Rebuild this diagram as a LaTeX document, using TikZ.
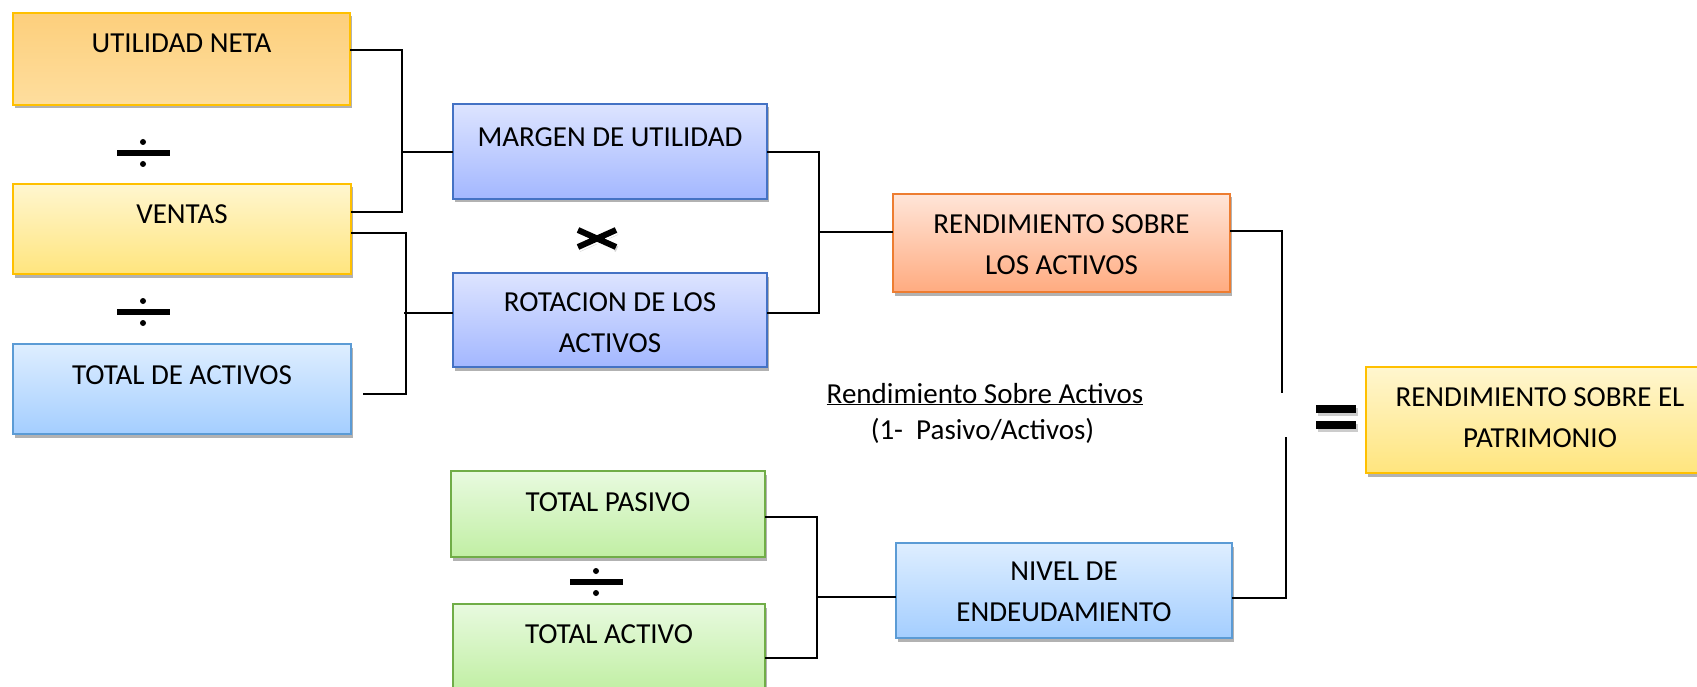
\documentclass[tikz,border=0pt]{standalone}
\usepackage{fontspec}
\setmainfont{Carlito}
\usetikzlibrary{shadows,calc}
\definecolor{gold}{HTML}{FFC000}
\definecolor{unT}{HTML}{FDCF7C}
\definecolor{unB}{HTML}{FEDE9E}
\definecolor{yeT}{HTML}{FFF6CF}
\definecolor{yeB}{HTML}{FFE57E}
\definecolor{lbT}{HTML}{DEEEFF}
\definecolor{lbB}{HTML}{A4CEFF}
\definecolor{lbD}{HTML}{5B9BD5}
\definecolor{pbT}{HTML}{DDE4FF}
\definecolor{pbB}{HTML}{A3B7FF}
\definecolor{pbD}{HTML}{4472C4}
\definecolor{orT}{HTML}{FFE5D8}
\definecolor{orB}{HTML}{FFAB80}
\definecolor{orD}{HTML}{ED7D31}
\definecolor{grT}{HTML}{E8FADF}
\definecolor{grB}{HTML}{C1EFA4}
\definecolor{grD}{HTML}{70AD47}
\tikzset{
  box/.style={rectangle, draw, line width=1.4pt, inner sep=0pt, outer sep=0pt,
    drop shadow={shadow xshift=1.5pt, shadow yshift=-3.5pt, opacity=0.3, fill=black}},
  unbox/.style={box, draw=gold, top color=unT, bottom color=unB},
  yebox/.style={box, draw=gold, top color=yeT, bottom color=yeB},
  lbbox/.style={box, draw=lbD, top color=lbT, bottom color=lbB},
  pbbox/.style={box, draw=pbD, top color=pbT, bottom color=pbB},
  orbox/.style={box, draw=orD, top color=orT, bottom color=orB},
  grbox/.style={box, draw=grD, top color=grT, bottom color=grB},
  txt/.style={anchor=base, align=center, inner sep=0pt, font=\fontsize{29}{41}\selectfont},
  conn/.style={line width=2pt, black},
  sym/.style={fill=black, draw=none}
}
\begin{document}
\begin{tikzpicture}[x=1pt, y=-1pt]
\useasboundingbox (0,0) rectangle (1697,687);
\clip (0,0) rectangle (1697,687);
% boxes
\node[unbox, minimum width=337pt, minimum height=92pt] (un) at (181.5,59) {};
\node[yebox, minimum width=338pt, minimum height=90pt] (ven) at (182,229) {};
\node[lbbox, minimum width=338pt, minimum height=90pt] (tda) at (182,389) {};
\node[pbbox, minimum width=314pt, minimum height=95pt] (mar) at (610,151.5) {};
\node[pbbox, minimum width=314pt, minimum height=94pt] (rot) at (610,320) {};
\node[orbox, minimum width=337pt, minimum height=98pt] (rsa) at (1061.5,243) {};
\node[yebox, minimum width=348pt, minimum height=106pt] (rsp) at (1540,420) {};
\node[grbox, minimum width=314pt, minimum height=86pt] (tp) at (608,514) {};
\node[grbox, minimum width=312pt, minimum height=86pt] (ta) at (609,647) {};
\node[lbbox, minimum width=336pt, minimum height=95pt] (niv) at (1064,590.5) {};
% texts (multi-line nodes: base = last line)
\node[txt] (unt) at (181.5,53) {UTILIDAD NETA};
\node[txt] (vent) at (182,223) {VENTAS};
\node[txt] (tdat) at (182,384) {TOTAL DE ACTIVOS};
\node[txt] (mart) at (610,147) {MARGEN DE UTILIDAD};
\node[txt] (rott) at (610,352) {ROTACION DE LOS\\ACTIVOS};
\node[txt] (rsat) at (1061.5,274) {RENDIMIENTO SOBRE\\LOS ACTIVOS};
\node[txt] (rspt) at (1540,447) {RENDIMIENTO SOBRE EL\\PATRIMONIO};
\node[txt] (tpt) at (608,511) {TOTAL PASIVO};
\node[txt] (tat) at (609,643) {TOTAL ACTIVO};
\node[txt] (nivt) at (1064,621) {NIVEL DE\\ENDEUDAMIENTO};
\node[txt] (f1) at (985,403) {\underline{Rendimiento Sobre Activos}};
\node[txt] (f2) at (982.5,439) {(1-\ \ Pasivo/Activos)};
% coordinates
\coordinate (j1a) at (402,50);
\coordinate (j1b) at (402,212);
\coordinate (j1m) at (402,152);
\coordinate (j2a) at (406,233);
\coordinate (j2b) at (406,394);
\coordinate (j2m) at (404,313);
\coordinate (tdae) at (363,394);
\coordinate (j3a) at (819,152);
\coordinate (j3b) at (819,313);
\coordinate (j3m) at (819,232);
\coordinate (j4a) at (1282,231);
\coordinate (j4b) at (1282,393);
\coordinate (j5a) at (1286,598);
\coordinate (j5b) at (1286,437);
\coordinate (j6a) at (817,517);
\coordinate (j6b) at (817,658);
\coordinate (j6m) at (817,597);
% connectors
\draw[conn] ([yshift=9pt]un.east) -- (j1a) -- (j1b) -- ([yshift=17pt]ven.east);
\draw[conn] (j1m) -- (mar.west |- j1m);
\draw[conn] ([yshift=-4pt]ven.east) -- (j2a |- 0,233) -- (j2a) -- (j2b) -- (tdae);
\draw[conn] (j2m) -- (rot.west |- j2m);
\draw[conn] (mar.east |- j3a) -- (j3a) -- (j3b) -- (rot.east |- j3b);
\draw[conn] (j3m) -- (rsa.west |- j3m);
\draw[conn] (rsa.east |- j4a) -- (j4a) -- (j4b);
\draw[conn] (niv.east |- j5a) -- (j5a) -- (j5b);
\draw[conn] (tp.east |- j6a) -- (j6a) -- (j6b) -- (ta.east |- j6b);
\draw[conn] (j6m) -- (niv.west |- j6m);
% divide signs
\foreach \cx/\cy in {143/153, 143/312, 596/582} {
  \fill[sym] (\cx-26.5,\cy-3) rectangle (\cx+26.5,\cy+3);
  \fill[sym] (\cx,\cy-11) circle (3pt);
  \fill[sym] (\cx,\cy+11) circle (3pt);
}
% times sign
\draw[line width=6pt, black!30, opacity=0.6] (579,232) -- (617,249) (579,249) -- (617,232);
\draw[line width=9.5pt, white] (578,230) -- (616,247) (578,247) -- (616,230);
\draw[line width=6pt, black] (578,230) -- (616,247) (578,247) -- (616,230);
% equals sign
\fill[black!40, opacity=0.5] (1318,408) rectangle (1358,416);
\fill[black!40, opacity=0.5] (1318,424) rectangle (1358,432);
\fill[sym] (1316,405) rectangle (1356,413);
\fill[sym] (1316,421) rectangle (1356,429);
\end{tikzpicture}
\end{document}
